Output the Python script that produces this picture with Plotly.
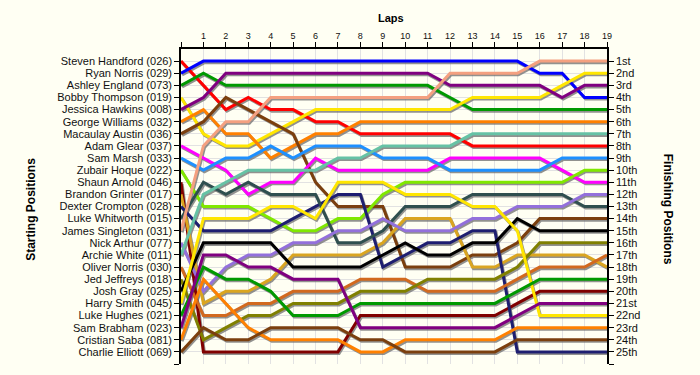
import plotly.graph_objects as go

laps = list(range(20))
lap_labels = [""] + [str(i) for i in range(1, 20)]

drivers = [
    "Steven Handford (026)", "Ryan Norris (029)", "Ashley England (073)", "Bobby Thompson (019)",
    "Jessica Hawkins (008)", "George Williams (032)", "Macaulay Austin (036)", "Adam Glear (037)",
    "Sam Marsh (033)", "Zubair Hoque (022)", "Shaun Arnold (046)", "Brandon Grinter (017)",
    "Dexter Crompton (028)", "Luke Whitworth (015)", "James Singleton (031)", "Nick Arthur (077)",
    "Archie White (011)", "Oliver Norris (030)", "Jed Jeffreys (018)", "Josh Gray (025)",
    "Harry Smith (045)", "Luke Hughes (021)", "Sam Brabham (023)", "Cristian Saba (081)",
    "Charlie Elliott (069)",
]

finish_labels = ["1st", "2nd", "3rd"] + [f"{i}th" for i in range(4, 21)] + ["21st", "22nd", "23rd", "24th", "25th"]

# positions per lap (lap 0 = grid)
handford  = [1, 3, 5, 4, 5, 5, 6, 6, 7, 7, 7, 7, 7, 8, 8, 8, 8, 8, 8, 8]
r_norris  = [2, 1, 1, 1, 1, 1, 1, 1, 1, 1, 1, 1, 1, 1, 1, 1, 2, 2, 4, 4]
england   = [3, 2, 3, 3, 3, 3, 3, 3, 3, 3, 3, 3, 4, 5, 5, 5, 5, 5, 5, 5]
thompson  = [4, 7, 8, 8, 7, 6, 5, 5, 5, 5, 5, 5, 5, 4, 4, 4, 4, 3, 2, 2]
hawkins   = [5, 4, 2, 2, 2, 2, 2, 2, 2, 2, 2, 2, 3, 3, 3, 3, 3, 4, 3, 3]
williams  = [6, 5, 7, 7, 9, 8, 7, 7, 6, 6, 6, 6, 6, 6, 6, 6, 6, 6, 6, 6]
austin    = [7, 6, 4, 5, 6, 7, 11, 13, 13, 13, 18, 18, 18, 17, 17, 16, 14, 14, 14, 14]
glear     = [8, 9, 10, 12, 11, 11, 9, 10, 10, 10, 10, 10, 9, 9, 9, 9, 9, 10, 11, 11]
marsh     = [9, 10, 9, 9, 8, 9, 8, 8, 8, 9, 9, 9, 10, 10, 10, 10, 10, 9, 9, 9]
hoque     = [10, 13, 13, 13, 14, 15, 15, 14, 14, 12, 11, 11, 11, 11, 11, 11, 11, 11, 10, 10]
arnold    = [11, 25, 25, 25, 25, 25, 25, 25, 22, 22, 22, 22, 22, 22, 22, 21, 20, 20, 20, 20]
grinter   = [12, 21, 20, 20, 19, 17, 17, 17, 17, 16, 14, 14, 14, 18, 18, 17, 17, 17, 17, 18]
crompton  = [13, 15, 15, 15, 15, 14, 13, 12, 12, 18, 17, 16, 16, 15, 15, 25, 25, 25, 25, 25]
whitworth = [14, 11, 12, 11, 12, 12, 12, 16, 16, 15, 13, 13, 13, 12, 12, 12, 12, 12, 13, 13]
singleton = [15, 8, 6, 6, 4, 4, 4, 4, 4, 4, 4, 4, 2, 2, 2, 2, 1, 1, 1, 1]
arthur    = [16, 20, 18, 17, 17, 16, 16, 15, 15, 14, 15, 15, 15, 14, 14, 13, 13, 13, 12, 12]
white     = [17, 12, 11, 10, 10, 10, 10, 9, 9, 8, 8, 8, 8, 7, 7, 7, 7, 7, 7, 7]
o_norris  = [18, 22, 22, 21, 21, 20, 20, 20, 19, 19, 19, 20, 20, 20, 20, 19, 18, 18, 18, 17]
jeffreys  = [19, 24, 23, 22, 22, 21, 21, 21, 20, 20, 20, 19, 19, 19, 19, 18, 16, 16, 16, 16]
gray      = [20, 16, 16, 16, 16, 18, 18, 18, 18, 17, 16, 17, 17, 16, 16, 14, 15, 15, 15, 15]
smith     = [21, 14, 14, 14, 13, 13, 14, 11, 11, 11, 12, 12, 12, 13, 13, 15, 22, 22, 22, 22]
hughes    = [22, 18, 19, 19, 20, 22, 22, 22, 21, 21, 21, 21, 21, 21, 21, 20, 19, 19, 19, 19]
brabham   = [23, 17, 17, 18, 18, 19, 19, 19, 23, 23, 23, 23, 23, 23, 23, 22, 21, 21, 21, 21]
saba      = [24, 19, 21, 23, 24, 24, 24, 24, 25, 25, 24, 24, 24, 24, 24, 23, 23, 23, 23, 23]
elliott   = [25, 23, 24, 24, 23, 23, 23, 23, 24, 24, 25, 25, 25, 25, 25, 24, 24, 24, 24, 24]

all_positions = [handford, r_norris, england, thompson, hawkins, williams, austin, glear, marsh,
                 hoque, arnold, grinter, crompton, whitworth, singleton, arthur, white, o_norris,
                 jeffreys, gray, smith, hughes, brabham, saba, elliott]

colors = ["#FF0000", "#0000FF", "#009900", "#FFE600", "#800080", "#FF8000", "#7B3F0E",
          "#FF00FF", "#1E90FF", "#80E800", "#800000", "#DAA520", "#1E1E70", "#2F4F4F",
          "#F4A080", "#9370DB", "#66C2A5", "#D2691E", "#808000", "#000000", "#FFE600",
          "#009900", "#800080", "#FF8000", "#7B3F0E"]

BG = "#FFFFF3"
fig = go.Figure()

# drop shadows (offset ~1px right, ~1.5px down)
for pos in all_positions:
    fig.add_trace(go.Scatter(x=[l + 0.05 for l in laps], y=[p + 0.13 for p in pos], mode="lines",
                             line=dict(color="rgba(110,110,110,0.75)", width=3),
                             hoverinfo="skip", showlegend=False))
for name, pos, col in zip(drivers, all_positions, colors):
    fig.add_trace(go.Scatter(x=laps, y=pos, mode="lines", name=name,
                             line=dict(color=col, width=3), showlegend=False))

# invisible trace for right axis
fig.add_trace(go.Scatter(x=[0], y=[1], yaxis="y2", mode="markers",
                         marker=dict(opacity=0), hoverinfo="skip", showlegend=False))

rows = list(range(1, 27))
fig.update_layout(
    width=700, height=375,
    margin=dict(l=181, r=93, t=49, b=11),
    paper_bgcolor=BG, plot_bgcolor=BG,
    font=dict(family="Arial, Liberation Sans", size=11, color="#111111"),
    xaxis=dict(range=[0, 19], side="top", tickvals=laps, ticktext=lap_labels,
               ticks="outside", ticklen=5, tickcolor="black", tickwidth=1,
               showline=True, linecolor="black", linewidth=1.5, automargin=False,
               showgrid=True, gridcolor="#E2E2E2", gridwidth=1, zeroline=False,
               tickfont=dict(size=9)),
    yaxis=dict(range=[26, 0], tickvals=rows, ticktext=drivers + [""],
               ticks="outside", ticklen=5, tickcolor="black", tickwidth=1,
               showline=True, linecolor="black", linewidth=1.5, automargin=False,
               showgrid=True, gridcolor="#E2E2E2", gridwidth=1, zeroline=False,
               tickfont=dict(size=11)),
    yaxis2=dict(range=[26, 0], overlaying="y", side="right", tickvals=rows,
                ticktext=finish_labels + [""], automargin=False,
                ticks="outside", ticklen=5, tickcolor="black", tickwidth=1,
                showline=True, linecolor="black", linewidth=1.5,
                showgrid=False, zeroline=False, tickfont=dict(size=11)),
    annotations=[
        dict(text="<b>Laps</b>", xref="paper", yref="paper", x=0.493, y=1.098,
             showarrow=False, font=dict(size=11, color="black"), xanchor="center", yanchor="middle"),
        dict(text="<b>Starting Positions</b>", xref="paper", yref="paper", x=-0.354, y=0.49,
             showarrow=False, textangle=-90, font=dict(size=12, color="black"),
             xanchor="center", yanchor="middle"),
        dict(text="<b>Finishing Positions</b>", xref="paper", yref="paper", x=1.143, y=0.49,
             showarrow=False, textangle=90, font=dict(size=12, color="black"),
             xanchor="center", yanchor="middle"),
    ],
)

fig.write_html("out.html", config={"displayModeBar": False},
               post_script="document.body.style.margin='0px';document.body.style.background='%s';" % BG)
